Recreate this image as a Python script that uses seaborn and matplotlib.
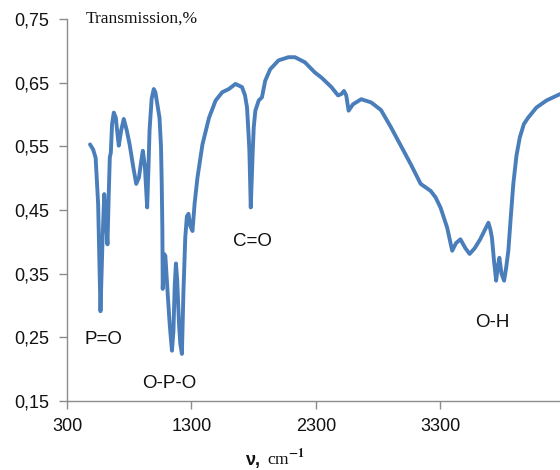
import matplotlib
matplotlib.use("Agg")
import matplotlib.pyplot as plt
import seaborn as sns
import pandas as pd

wavenumber = [485, 510, 530, 550, 569, 585, 599, 612, 625, 636, 644, 652, 662, 676, 692, 705,
              716, 735, 756, 780, 803, 830, 856, 878, 895, 909, 925, 944, 955, 963, 980, 997,
              1010, 1021, 1043, 1055, 1061, 1066, 1069, 1075, 1080, 1090, 1100, 1109, 1125,
              1143, 1155, 1165, 1175, 1185, 1200, 1210, 1223, 1235, 1250, 1263, 1276, 1290,
              1308, 1325, 1348, 1388, 1441, 1494, 1547, 1600, 1653, 1706, 1730, 1746, 1758,
              1765, 1770, 1776, 1784, 1792, 1800, 1813, 1840, 1866, 1892, 1932, 1999, 2079,
              2131, 2211, 2291, 2344, 2424, 2477, 2503, 2525, 2543, 2562, 2597, 2663, 2743,
              2822, 2902, 2982, 3061, 3141, 3221, 3260, 3300, 3354, 3394, 3425, 3460, 3500,
              3534, 3575, 3619, 3660, 3685, 3700, 3713, 3730, 3747, 3760, 3773, 3790, 3811,
              3828, 3845, 3865, 3885, 3910, 3937, 3970, 4004, 4071, 4151, 4260]
transmission = [0.553, 0.545, 0.532, 0.46, 0.291, 0.40, 0.475, 0.44, 0.396, 0.48, 0.533, 0.540,
                0.585, 0.603, 0.595, 0.57, 0.551, 0.575, 0.593, 0.575, 0.553, 0.52, 0.491, 0.501,
                0.525, 0.543, 0.52, 0.454, 0.52, 0.575, 0.625, 0.640, 0.635, 0.622, 0.595, 0.55,
                0.491, 0.42, 0.326, 0.36, 0.381, 0.378, 0.345, 0.318, 0.27, 0.229, 0.26, 0.33,
                0.366, 0.34, 0.27, 0.24, 0.224, 0.32, 0.407, 0.44, 0.444, 0.425, 0.417, 0.46,
                0.501, 0.553, 0.595, 0.622, 0.635, 0.640, 0.648, 0.643, 0.630, 0.611, 0.570,
                0.543, 0.50, 0.454, 0.50, 0.543, 0.58, 0.606, 0.622, 0.627, 0.653, 0.671, 0.685,
                0.690, 0.690, 0.682, 0.666, 0.658, 0.643, 0.630, 0.632, 0.637, 0.630, 0.606,
                0.616, 0.624, 0.619, 0.607, 0.580, 0.551, 0.522, 0.491, 0.480, 0.47, 0.454,
                0.422, 0.386, 0.398, 0.404, 0.39, 0.381, 0.39, 0.404, 0.420, 0.430, 0.42, 0.407,
                0.37, 0.339, 0.36, 0.375, 0.35, 0.339, 0.36, 0.386, 0.44, 0.491, 0.535, 0.564,
                0.585, 0.595, 0.611, 0.622, 0.632]

x_ticks = [300, 1300, 2300, 3300]
y_ticks = [0.15, 0.25, 0.35, 0.45, 0.55, 0.65, 0.75]
y_labels = ["0,15", "0,25", "0,35", "0,45", "0,55", "0,65", "0,75"]

band_labels = ["P=O", "O-P-O", "C=O", "O-H"]
band_x = [596, 1124, 1788, 3716]
band_y = [0.247, 0.177, 0.40, 0.274]

df = pd.DataFrame({"wavenumber": wavenumber, "transmission": transmission})

sns.set_style("ticks")
plt.rcParams["font.family"] = ["Liberation Sans", "DejaVu Sans"]
plt.rcParams["mathtext.fontset"] = "stix"

fig = plt.figure(figsize=(5.6, 4.7), dpi=100)
ax = fig.add_axes([67 / 560, 69 / 470, 493 / 560, 382 / 470])

sns.lineplot(data=df, x="wavenumber", y="transmission", ax=ax, sort=False,
             estimator=None, color="#4A7EBB", linewidth=2.8)

ax.set_xlim(300, 4260)
ax.set_ylim(0.15, 0.75)
ax.set_xticks(x_ticks)
ax.set_xticklabels([str(t) for t in x_ticks])
ax.set_yticks(y_ticks)
ax.set_yticklabels(y_labels)
ax.set_xlabel("")
ax.set_ylabel("")

for s in ["top", "right"]:
    ax.spines[s].set_visible(False)
for s in ["left", "bottom"]:
    ax.spines[s].set_color("#8c8c8c")
    ax.spines[s].set_linewidth(1.0)

ax.tick_params(axis="both", direction="out", length=6, width=1.0, color="#8c8c8c",
               labelsize=13, labelcolor="#111111")
ax.tick_params(axis="y", pad=7)
ax.tick_params(axis="x", pad=6)

for lab, bx, by in zip(band_labels, band_x, band_y):
    ax.text(bx, by, lab, ha="center", va="center", fontsize=13.5, color="#111111")

ax.text(0.037, 1.0, "Transmission,%", transform=ax.transAxes, ha="left", va="center",
        fontsize=12.5, family="Liberation Serif", color="#111111", clip_on=False)

fig.text(253 / 560, 5 / 470, "ν,", ha="center", va="baseline", fontsize=13,
         fontweight="bold", color="#111111")
fig.text(267 / 560, 5 / 470, "cm$^{\\mathbf{-1}}$", ha="left", va="baseline", fontsize=12.5,
         family="Liberation Serif", color="#111111")

fig.savefig("out.png", dpi=100)
